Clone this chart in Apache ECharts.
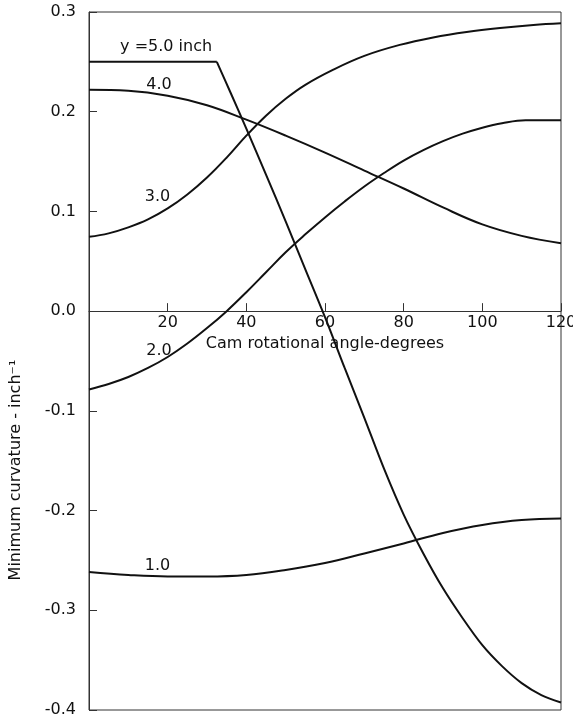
<!DOCTYPE html>
<html>
<head>
    <meta charset="UTF-8">
    <title>Minimum curvature vs cam angle</title>
    <script src="https://cdn.jsdelivr.net/npm/echarts@6/dist/echarts.min.js"></script>
    <style>
        html, body { margin: 0; padding: 0; background: #fff; }
    </style>
</head>
<body>
    <div id="chart" style="width: 573px; height: 718px;"></div>
    <script type="text/javascript">
        // values (x = cam angle, degrees; y = curvature, 1/inch)
        var angle5 = [0, 32.5, 36, 40, 45, 50, 55, 60, 65, 70, 75, 80, 85, 90, 95, 100, 105, 110, 115, 120];
        var curv5 = [0.25, 0.25, 0.219, 0.183, 0.137, 0.090, 0.042, -0.006, -0.057, -0.107, -0.158, -0.204, -0.243, -0.278, -0.308, -0.335, -0.356, -0.373, -0.385, -0.3925];

        var angle4 = [0, 10, 20, 30, 40, 50, 60, 70, 80, 90, 100, 110, 120];
        var curv4 = [0.222, 0.221, 0.216, 0.2065, 0.192, 0.176, 0.159, 0.141, 0.123, 0.104, 0.087, 0.0755, 0.068];

        var angle3 = [0, 5, 10, 15, 20, 25, 30, 35, 40, 45, 50, 55, 62, 70, 79, 87.5, 96, 104.5, 113, 120];
        var curv3 = [0.0745, 0.078, 0.084, 0.092, 0.103, 0.117, 0.134, 0.154, 0.176, 0.196, 0.213, 0.227, 0.242, 0.256, 0.267, 0.2745, 0.280, 0.284, 0.287, 0.2886];

        var angle2 = [0, 5, 10, 15, 20, 25, 30, 35, 40, 45, 50, 55, 60, 65, 70, 75, 80, 85, 90, 95, 100, 105, 111, 120];
        var curv2 = [-0.0785, -0.073, -0.066, -0.057, -0.046, -0.0325, -0.017, 0, 0.019, 0.039, 0.059, 0.077, 0.094, 0.110, 0.125, 0.1385, 0.151, 0.1615, 0.1705, 0.178, 0.184, 0.1885, 0.1915, 0.1915];

        var angle1 = [0, 10, 20, 30, 40, 50, 60, 70, 80, 90, 100, 110, 120];
        var curv1 = [-0.2615, -0.2645, -0.266, -0.266, -0.2645, -0.2595, -0.2525, -0.243, -0.233, -0.2225, -0.2145, -0.2095, -0.208];

        var curveNames = ['y =5.0 inch', '4.0', '3.0', '2.0', '1.0'];
        var xTicks = [0, 20, 40, 60, 80, 100, 120];
        var yTicks = [-0.4, -0.3, -0.2, -0.1, 0.0, 0.1, 0.2, 0.3];

        function pairs(xs, ys) {
            return xs.map(function (x, i) { return [x, ys[i]]; });
        }

        var ink = '#111';
        var font = 'DejaVu Sans';

        function curve(name, data, smooth, labelAt) {
            var s = {
                name: name,
                type: 'line',
                data: data,
                smooth: smooth,
                symbol: 'none',
                lineStyle: { color: ink, width: 2 }
            };
            if (labelAt) {
                s.markPoint = {
                    symbol: 'circle',
                    symbolSize: 0,
                    silent: true,
                    label: {
                        show: true,
                        position: 'inside',
                        formatter: name,
                        color: ink,
                        fontFamily: font,
                        fontSize: 16
                    },
                    data: [{ coord: labelAt }]
                };
            }
            return s;
        }

        // plot box in pixels; the x axis is lifted from the bottom edge to y = 0
        var gridTop = 12, gridBottom = 8;
        var plotH = 718 - gridTop - gridBottom;
        var yMin = yTicks[0], yMax = yTicks[yTicks.length - 1];
        var zeroLift = plotH * (0 - yMin) / (yMax - yMin);

        var chart = echarts.init(document.getElementById('chart'));

        var pts5 = pairs(angle5, curv5);

        var option = {
            animation: false,
            backgroundColor: '#fff',
            grid: {
                left: 89, right: 12, top: gridTop, bottom: gridBottom,
                containLabel: false,
                outerBoundsMode: 'none',
                show: true,
                borderColor: '#333',
                borderWidth: 1
            },
            xAxis: {
                type: 'value',
                position: 'bottom',
                offset: -zeroLift,
                min: xTicks[0],
                max: xTicks[xTicks.length - 1],
                interval: 20,
                name: 'Cam rotational angle-degrees',
                nameLocation: 'middle',
                nameGap: 20,
                nameTextStyle: { color: ink, fontFamily: font, fontSize: 16 },
                axisLine: { onZero: false, lineStyle: { color: '#333', width: 1 } },
                axisTick: { inside: true, length: 8, lineStyle: { color: '#333' } },
                axisLabel: {
                    color: ink, fontFamily: font, fontSize: 16, margin: 4,
                    showMinLabel: false,
                    formatter: function (v) { return v === 0 ? '' : String(v); }
                },
                splitLine: { show: false }
            },
            yAxis: {
                type: 'value',
                min: yMin,
                max: yMax,
                interval: 0.1,
                axisLine: { show: true, onZero: false, lineStyle: { color: '#333', width: 1 } },
                axisTick: { show: true, inside: true, length: 8, lineStyle: { color: '#333' } },
                axisLabel: {
                    color: ink, fontFamily: font, fontSize: 16, margin: 13,
                    formatter: function (v) { return (Math.round(v * 10) / 10).toFixed(1); }
                },
                splitLine: { show: false }
            },
            graphic: [{
                type: 'text',
                x: 16,
                y: 470,
                rotation: Math.PI / 2,
                style: {
                    text: 'Minimum curvature - inch\u207B\u00B9',
                    fill: ink,
                    font: '16px "DejaVu Sans"',
                    align: 'center',
                    verticalAlign: 'middle'
                }
            }],
            series: [
                // y = 5.0: flat part up to the knee, then the falling branch
                curve(curveNames[0], pts5.slice(0, 2), false, [19.6, 0.265]),
                curve(curveNames[0], pts5.slice(1), 0.3, null),
                curve(curveNames[1], pairs(angle4, curv4), 0.4, [17.8, 0.227]),
                curve(curveNames[2], pairs(angle3, curv3), 0.4, [17.4, 0.115]),
                curve(curveNames[3], pairs(angle2, curv2), 0.4, [17.8, -0.040]),
                curve(curveNames[4], pairs(angle1, curv1), 0.4, [17.4, -0.255])
            ]
        };

        chart.setOption(option);
    </script>
</body>
</html>
